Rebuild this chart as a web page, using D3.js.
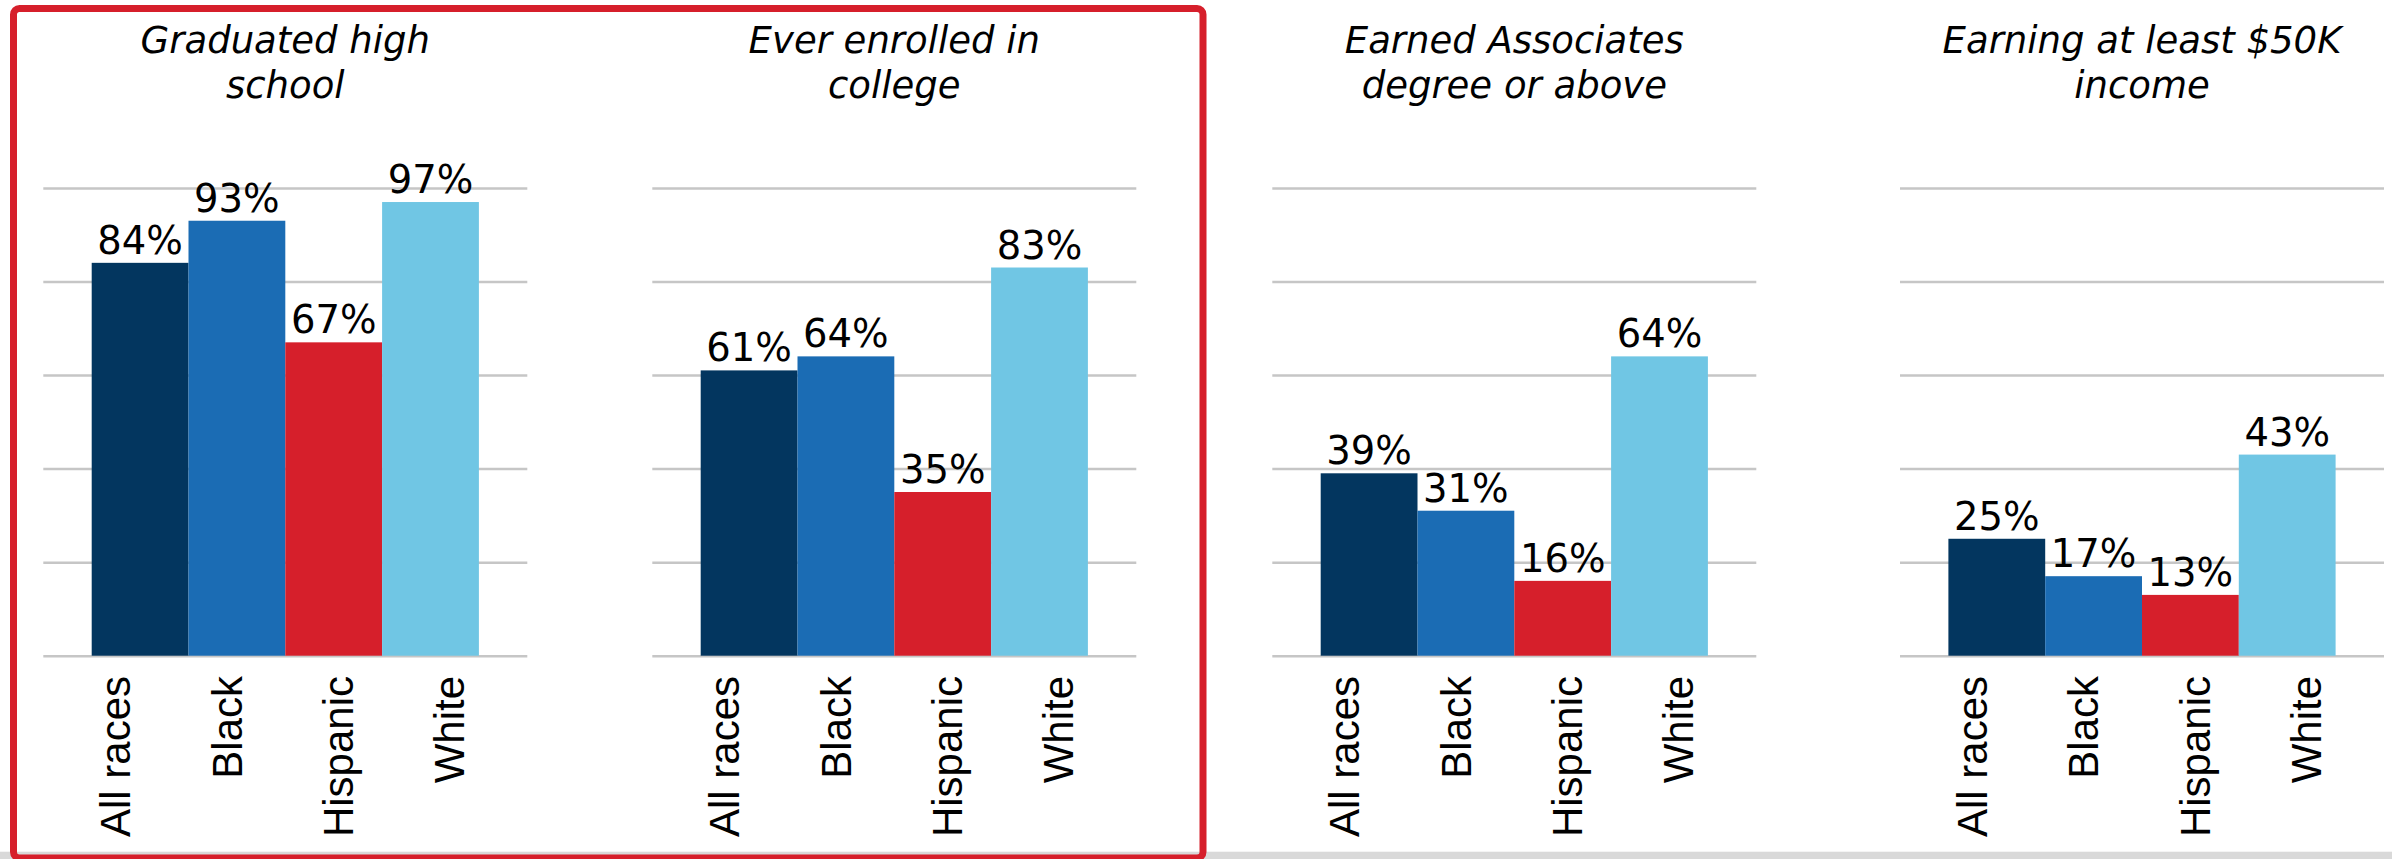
<!DOCTYPE html>
<html lang="en">
<head>
<meta charset="UTF-8">
<title>Outcomes by race</title>
<script src="https://cdn.jsdelivr.net/npm/d3@7"></script>
<style>
  body { margin: 0; background: #fff; }
  svg { display: block; }
  .grid line { stroke: #c6c6c6; stroke-width: 2.5; }
  .grid .domain { display: none; }
  .title { font-family: "DejaVu Sans", Verdana, sans-serif; font-style: italic; font-size: 37px; fill: #000; }
  .val { font-family: "DejaVu Sans", Verdana, sans-serif; font-size: 38.5px; fill: #000; }
  .cat { font-family: "Liberation Sans", Arial, sans-serif; font-size: 42px; fill: #000; }
</style>
</head>
<body>
<div id="chart"></div>
<script>
// data
var categories = ["All races", "Black", "Hispanic", "White"];
var panelTitles = [
  ["Graduated high", "school"],
  ["Ever enrolled in", "college"],
  ["Earned Associates", "degree or above"],
  ["Earning at least $50K", "income"]
];
var gradHighSchool = [84, 93, 67, 97];
var everEnrolled   = [61, 64, 35, 83];
var associatesPlus = [39, 31, 16, 64];
var earning50k     = [25, 17, 13, 43];
var yTicks = [0, 20, 40, 60, 80, 100];
var barColors = ["#03365f", "#1b6cb4", "#d61f2b", "#70c6e4"];

var series = [gradHighSchool, everEnrolled, associatesPlus, earning50k];

// layout
var W = 2392, H = 859;
var panelLeft = [43.3, 652.3, 1272.3, 1900];
var plotW = 484;

var svg = d3.select("#chart").append("svg")
    .attr("width", W)
    .attr("height", H);

// grey strip at the bottom
svg.append("rect")
    .attr("x", 0).attr("y", 851.7)
    .attr("width", W).attr("height", H - 851.7)
    .attr("fill", "#d9d9d9");

var y = d3.scaleLinear().domain([0, 100]).range([655.7, 188]);
var x = d3.scaleBand().domain(categories).range([0, plotW])
    .paddingInner(0).paddingOuter(0.5);
// rotated category labels sit a bit wider than the bars
var xLab = d3.scalePoint().domain(categories).range([87, 421]);

series.forEach(function(vals, i) {
  var g = svg.append("g").attr("transform", "translate(" + panelLeft[i] + ",0)");

  g.append("g")
      .attr("class", "grid")
      .call(d3.axisLeft(y).tickValues(yTicks).tickSize(-plotW).tickFormat(""));

  var rows = categories.map(function(c, j) { return { cat: c, v: vals[j], col: barColors[j] }; });

  g.selectAll("rect.bar").data(rows).enter().append("rect")
      .attr("class", "bar")
      .attr("x", function(d) { return x(d.cat); })
      .attr("y", function(d) { return y(d.v); })
      .attr("width", x.bandwidth())
      .attr("height", function(d) { return y(0) - y(d.v); })
      .attr("fill", function(d) { return d.col; });

  g.selectAll("text.val").data(rows).enter().append("text")
      .attr("class", "val")
      .attr("x", function(d) { return x(d.cat) + x.bandwidth() / 2; })
      .attr("y", function(d) { return y(d.v) - 9; })
      .attr("text-anchor", "middle")
      .text(function(d) { return d.v + "%"; });

  g.selectAll("text.cat").data(categories).enter().append("text")
      .attr("class", "cat")
      .attr("transform", function(d) { return "translate(" + xLab(d) + ",676) rotate(-90)"; })
      .attr("text-anchor", "end")
      .text(function(d) { return d; });

  var t = g.append("text")
      .attr("class", "title")
      .attr("text-anchor", "middle");
  panelTitles[i].forEach(function(line, k) {
    t.append("tspan")
        .attr("x", plotW / 2)
        .attr("y", 53 + k * 45)
        .text(line);
  });
});

// red frame round the first two panels
svg.append("rect")
    .attr("x", 13.5).attr("y", 8.5)
    .attr("width", 1189.5).attr("height", 849.5)
    .attr("rx", 6).attr("ry", 6)
    .attr("fill", "none")
    .attr("stroke", "#d61f2b")
    .attr("stroke-width", 7);
</script>
</body>
</html>
